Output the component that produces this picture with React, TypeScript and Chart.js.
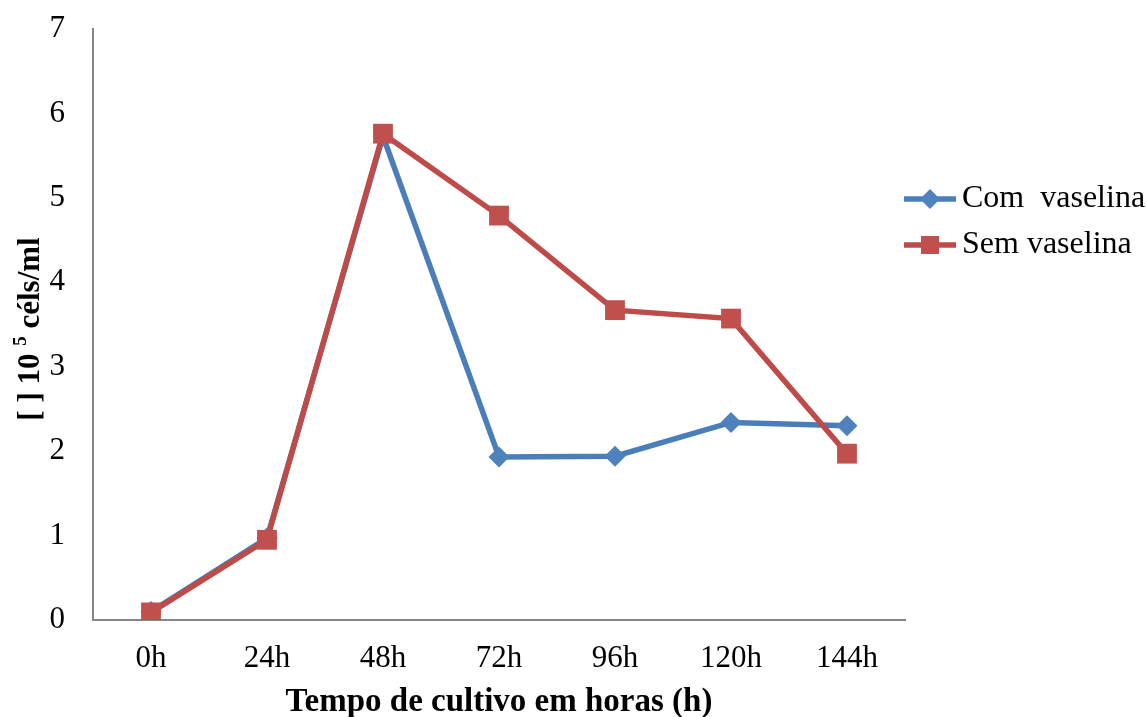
import React, { useEffect, useRef } from "react";
import { Chart, registerables } from "chart.js";

Chart.register(...registerables);

const categories = ["0h", "24h", "48h", "72h", "96h", "120h", "144h"];
const comVaselina = [0.1, 0.97, 5.73, 1.93, 1.94, 2.34, 2.3];
const semVaselina = [0.09, 0.95, 5.76, 4.79, 3.67, 3.57, 1.97];
const seriesNames = ["Com  vaselina", "Sem vaselina"];
const yTicks = [0, 1, 2, 3, 4, 5, 6, 7];

const BLUE = "#4A7EBB";
const BLUE_M = "#4F81BD";
const RED = "#BE4B48";
const RED_M = "#C0504D";
const SERIF = "'Liberation Serif', 'Times New Roman', serif";

const yTitlePlugin = {
  id: "yTitle",
  afterDraw(chart: any) {
    const ctx = chart.ctx;
    const cy = 329;
    const cx = 31;
    const big = `bold 31px ${SERIF}`;
    const small = `bold 19px ${SERIF}`;
    const parts = [
      { t: "[ ] 10 ", f: big, dy: 0 },
      { t: "5", f: small, dy: -10 },
      { t: " céls/ml", f: big, dy: 0 },
    ];
    ctx.save();
    let total = 0;
    for (const p of parts) {
      ctx.font = p.f;
      total += ctx.measureText(p.t).width;
    }
    ctx.translate(cx, cy);
    ctx.rotate(-Math.PI / 2);
    ctx.fillStyle = "#000";
    ctx.textBaseline = "middle";
    ctx.textAlign = "left";
    let x = -total / 2;
    for (const p of parts) {
      ctx.font = p.f;
      ctx.fillText(p.t, x, p.dy);
      x += ctx.measureText(p.t).width;
    }
    ctx.restore();
  },
};

const legendPlugin = {
  id: "customLegend",
  afterDraw(chart: any) {
    const ctx = chart.ctx;
    const area = chart.chartArea;
    const x0 = area.right - 1;
    const rows = [199, 245];
    ctx.save();
    chart.data.datasets.forEach((ds: any, i: number) => {
      const y = rows[i];
      ctx.strokeStyle = ds.borderColor;
      ctx.lineWidth = 5.5;
      ctx.beginPath();
      ctx.moveTo(x0, y);
      ctx.lineTo(x0 + 52, y);
      ctx.stroke();
      ctx.fillStyle = ds.pointBackgroundColor;
      const mx = x0 + 26;
      if (ds.pointStyle === "rectRot") {
        ctx.beginPath();
        ctx.moveTo(mx, y - 10);
        ctx.lineTo(mx + 10, y);
        ctx.lineTo(mx, y + 10);
        ctx.lineTo(mx - 10, y);
        ctx.closePath();
        ctx.fill();
      } else {
        ctx.fillRect(mx - 9, y - 9, 18, 18);
      }
      ctx.fillStyle = "#000";
      ctx.font = `32px ${SERIF}`;
      ctx.textBaseline = "middle";
      ctx.textAlign = "left";
      ctx.fillText(ds.label, x0 + 58, y);
    });
    ctx.restore();
  },
};

export default function App() {
  const ref = useRef<HTMLCanvasElement>(null);
  useEffect(() => {
    document.body.style.margin = "0";
    const chart = new Chart(ref.current!, {
      type: "line",
      data: {
        labels: categories,
        datasets: [
          {
            label: seriesNames[0],
            data: comVaselina,
            borderColor: BLUE,
            backgroundColor: BLUE_M,
            pointBackgroundColor: BLUE_M,
            pointBorderColor: BLUE_M,
            pointStyle: "rectRot",
            pointRadius: 10.5,
            borderWidth: 5.5,
            pointBorderWidth: 0,
            order: 2,
          },
          {
            label: seriesNames[1],
            data: semVaselina,
            borderColor: RED,
            backgroundColor: RED_M,
            pointBackgroundColor: RED_M,
            pointBorderColor: RED_M,
            pointStyle: "rect",
            pointRadius: 14,
            borderWidth: 5.5,
            pointBorderWidth: 0,
            order: 1,
          },
        ],
      },
      options: {
        animation: false,
        responsive: false,
        maintainAspectRatio: false,
        layout: { padding: { top: 29, right: 242, left: 0, bottom: 0 } },
        plugins: {
          legend: { display: false },
          tooltip: { enabled: false },
        },
        scales: {
          x: {
            offset: true,
            grid: { display: false, drawTicks: false },
            border: { display: true, color: "#868686", width: 2 },
            ticks: {
              color: "#000",
              font: { family: SERIF, size: 31 },
              padding: 20,
              maxRotation: 0,
            },
            title: {
              display: true,
              text: "Tempo de cultivo em horas (h)",
              color: "#000",
              font: { family: SERIF, size: 33, weight: "bold", lineHeight: 1 },
              padding: { top: 0, bottom: -2 },
            },
            afterFit(scale: any) {
              scale.height = 97;
              scale.paddingLeft = 0;
              scale.paddingRight = 0;
            },
          },
          y: {
            min: 0,
            max: 7,
            grid: { display: false, drawTicks: false },
            border: { display: true, color: "#868686", width: 2 },
            afterBuildTicks(scale: any) {
              scale.ticks = yTicks.map((v) => ({ value: v }));
            },
            ticks: {
              color: "#000",
              font: { family: SERIF, size: 31 },
              padding: 28,
            },
            afterFit(scale: any) {
              scale.width = 93;
              scale.paddingTop = 0;
              scale.paddingBottom = 0;
            },
          },
        },
      },
      plugins: [yTitlePlugin, legendPlugin],
    });
    return () => chart.destroy();
  }, []);
  return (
    <canvas
      ref={ref}
      width={1147}
      height={717}
      style={{ display: "block", width: 1147, height: 717 }}
    />
  );
}
